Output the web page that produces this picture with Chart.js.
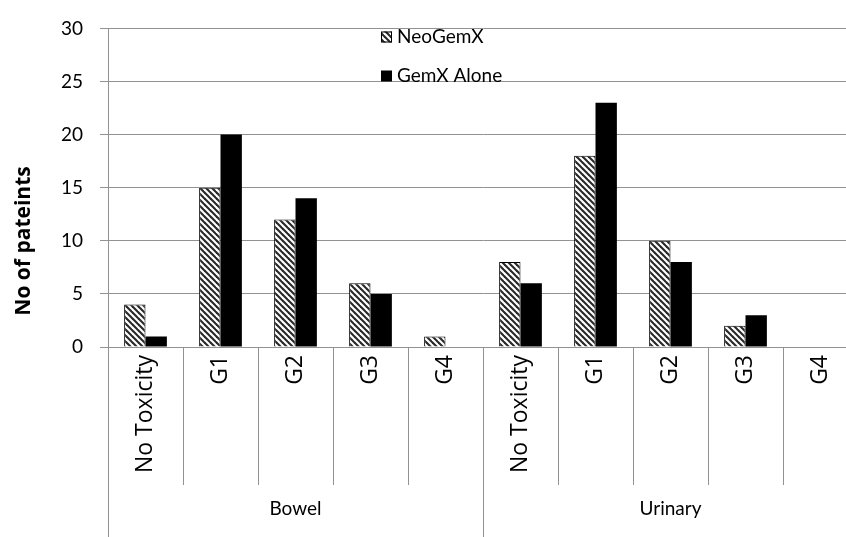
<!DOCTYPE html>
<html>
<head>
<meta charset="utf-8">
<script src="https://cdn.jsdelivr.net/npm/chart.js@4/dist/chart.umd.min.js"></script>
<style>
  html, body { margin: 0; padding: 0; background: #fff; overflow: hidden; }
  #wrap { position: relative; width: 866px; height: 537px; }
</style>
</head>
<body>
<div id="wrap"><canvas id="c"></canvas></div>
<script>
// Toxicity grades within each site
const grades = ["No Toxicity", "G1", "G2", "G3", "G4"];
const groups = ["Bowel", "Urinary"];

// Patient counts per grade
const neoBowel = [4, 15, 12, 6, 1];
const neoUrinary = [8, 18, 10, 2, 0];
const aloneBowel = [1, 20, 14, 5, 0];
const aloneUrinary = [6, 23, 8, 3, 0];

const seriesNames = ["NeoGemX", "GemX Alone"];
const yTitle = "No of pateints";
const yTicks = [0, 5, 10, 15, 20, 25, 30];

const FONT = "Lato, 'Liberation Sans', sans-serif";
const CAT_FONT = "'Open Sans', 'Liberation Sans', sans-serif";
const GRID = "#929292";

// Diagonal hatch used for the first series
function hatch() {
  const s = 6;
  const c = document.createElement("canvas");
  c.width = s; c.height = s;
  const g = c.getContext("2d");
  g.fillStyle = "#fff";
  g.fillRect(0, 0, s, s);
  g.strokeStyle = "#2a2a2a";
  g.lineWidth = 2.1;
  for (const k of [-s, 0, s]) {
    g.beginPath();
    g.moveTo(k - 1, -1);
    g.lineTo(k + s + 1, s + 1);
    g.stroke();
  }
  return g.createPattern(c, "repeat");
}
const hatchFill = hatch();

const labels = groups.flatMap(() => grades);

// Separators, group names, legend and axis title
const decor = {
  id: "decor",
  afterDraw(chart) {
    const ctx = chart.ctx;
    const x = chart.scales.x;
    const area = chart.chartArea;
    const half = (x.getPixelForValue(1) - x.getPixelForValue(0)) / 2;
    const n = labels.length;
    ctx.save();
    ctx.strokeStyle = GRID;
    ctx.lineWidth = 1;
    for (let i = 0; i <= n; i++) {
      const px = Math.round(x.getPixelForValue(i) - half) + 0.5;
      const isGroup = i % grades.length === 0;
      ctx.beginPath();
      ctx.moveTo(px, area.bottom);
      ctx.lineTo(px, isGroup ? chart.height : area.bottom + 138);
      ctx.stroke();
    }
    ctx.fillStyle = "#000";
    ctx.font = "19px " + FONT;
    ctx.textAlign = "center";
    ctx.textBaseline = "middle";
    groups.forEach((gname, gi) => {
      const a = x.getPixelForValue(gi * grades.length) - half;
      const b = x.getPixelForValue((gi + 1) * grades.length - 1) + half;
      ctx.fillText(gname, (a + b) / 2, 509);
    });

    // legend
    const ds = chart.data.datasets;
    ctx.textAlign = "left";
    ctx.font = "19px " + FONT;
    const rows = [37, 76];
    ds.forEach((d, i) => {
      const y = rows[i];
      ctx.fillStyle = d.backgroundColor;
      ctx.fillRect(381, y - 5.5, 11, 11);
      if (d.borderWidth) {
        ctx.strokeStyle = "#000";
        ctx.lineWidth = 1;
        ctx.strokeRect(381.5, y - 5, 10, 10);
      }
      ctx.fillStyle = "#000";
      ctx.fillText(d.label, 397, y);
    });

    // y-axis title
    ctx.translate(24, 241);
    ctx.rotate(-Math.PI / 2);
    ctx.font = "bold 21px 'Open Sans', sans-serif";
    ctx.textAlign = "center";
    ctx.fillText(yTitle, 0, 0);
    ctx.restore();
  }
};

new Chart(document.getElementById("c"), {
  type: "bar",
  data: {
    labels: labels,
    datasets: [
      {
        label: seriesNames[0],
        data: neoBowel.concat(neoUrinary),
        backgroundColor: hatchFill,
        borderColor: "#000",
        borderWidth: 1
      },
      {
        label: seriesNames[1],
        data: aloneBowel.concat(aloneUrinary),
        backgroundColor: "#000",
        borderWidth: 0
      }
    ]
  },
  options: {
    responsive: true,
    maintainAspectRatio: false,
    animation: false,
    layout: { padding: { top: 20, right: 8, left: 0, bottom: 0 } },
    datasets: { bar: { categoryPercentage: 0.57, barPercentage: 1.0 } },
    plugins: { legend: { display: false }, tooltip: { enabled: false } },
    scales: {
      x: {
        grid: { display: false, drawTicks: false },
        border: { display: false },
        ticks: {
          autoSkip: false,
          minRotation: 90,
          maxRotation: 90,
          padding: 8,
          color: "#000",
          font: { family: CAT_FONT, size: 23 }
        },
        afterFit(scale) { scale.height = 190; }
      },
      y: {
        min: 0,
        max: 30,
        afterBuildTicks(scale) { scale.ticks = yTicks.map(v => ({ value: v })); },
        grid: { color: GRID, tickLength: 8, lineWidth: 1 },
        border: { color: GRID, width: 1 },
        ticks: {
          padding: 17,
          color: "#000",
          font: { family: FONT, size: 19 }
        },
        afterFit(scale) { scale.width = 108; }
      }
    }
  },
  plugins: [decor]
});
</script>
</body>
</html>
